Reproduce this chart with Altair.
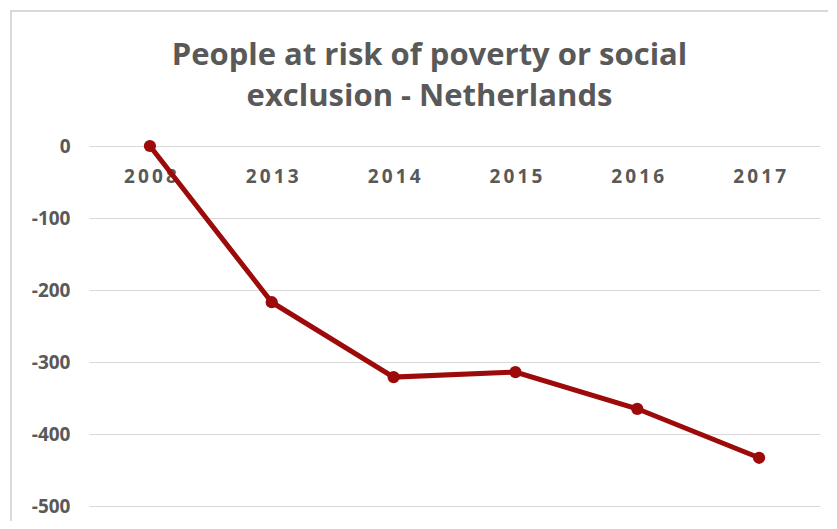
import altair as alt
import pandas as pd

years = ["2008", "2013", "2014", "2015", "2016", "2017"]
values = [0, -217, -321, -314, -365, -433]
y_ticks = [0, -100, -200, -300, -400, -500]

df = pd.DataFrame({"year": years, "value": values})

TEXT = "#595959"
LINE = "#9c0a0a"

x_enc = alt.X(
    "year:N",
    sort=years,
    scale=alt.Scale(type="point", padding=0.5),
    axis=alt.Axis(
        title=None,
        orient="bottom",
        offset=-360,
        domain=False,
        ticks=False,
        grid=False,
        labelAngle=0,
        labelPadding=21,
        labelFont="Open Sans",
        labelFontWeight="bold",
        labelFontSize=19,
        labelColor=TEXT,
        labelExpr="join(split(datum.label, ''), '\u2009')",
    ),
)
y_enc = alt.Y(
    "value:Q",
    scale=alt.Scale(domain=[-500, 0], nice=False, zero=False),
    axis=alt.Axis(
        title=None,
        values=y_ticks,
        domain=False,
        ticks=False,
        grid=True,
        gridColor="#d9d9d9",
        gridWidth=1,
        labelPadding=19,
        labelFont="Open Sans",
        labelFontWeight="bold",
        labelFontSize=19,
        labelColor=TEXT,
        labelExpr="replace(datum.label, '\u2212', '-')",
    ),
)

line = alt.Chart(df).mark_line(color=LINE, strokeWidth=5).encode(x=x_enc, y=y_enc)
pts = alt.Chart(df).mark_point(filled=True, opacity=1, color=LINE, size=150, shape="circle").encode(
    x=alt.X("year:N", sort=years), y="value:Q"
)

border_top = alt.Chart(df).mark_rule(color="#d9d9d9", strokeWidth=2, clip=False).encode(
    x=alt.value(-79), x2=alt.value(760), y=alt.value(-135)
)
border_left = alt.Chart(df).mark_rule(color="#d9d9d9", strokeWidth=2, clip=False).encode(
    x=alt.value(-78), y=alt.value(-136), y2=alt.value(400)
)

chart = (
    alt.layer(border_top, border_left, line, pts)
    .properties(
        width=731,
        height=360,
        autosize=alt.AutoSizeParams(type="none"),
        padding={"left": 81, "top": 138, "right": 8, "bottom": 15},
        title=alt.TitleParams(
            text=["People at risk of poverty or social", "exclusion - Netherlands"],
            font="Open Sans",
            fontWeight="bold",
            fontSize=31,
            color=TEXT,
            anchor="middle",
            dx=-25,
            offset=-104,
            lineHeight=41,
        ),
    )
    .configure_view(stroke=None)
)

chart.save("out.html", embed_options={"renderer": "svg", "actions": False})
